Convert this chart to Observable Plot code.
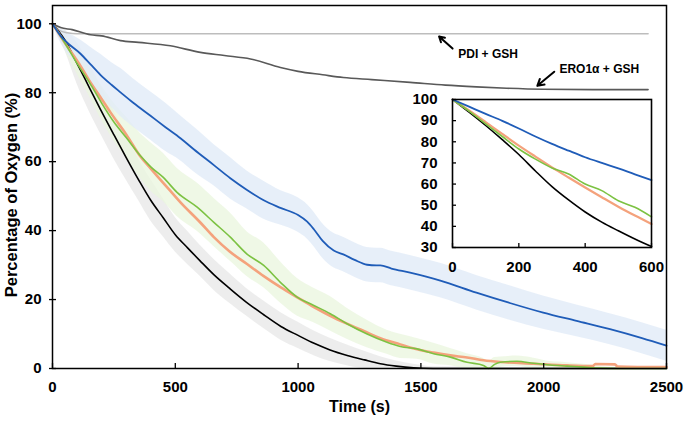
<!DOCTYPE html>
<html><head><meta charset="utf-8">
<script src="https://cdn.jsdelivr.net/npm/d3@7"></script>
<script src="https://cdn.jsdelivr.net/npm/@observablehq/plot@0.6"></script>
<style>
body{margin:0;background:#fff;}
#wrap{position:relative;width:686px;height:425px;}
#inset{position:absolute;left:412px;top:91px;}
</style></head><body><div id="wrap"></div>
<script>
// ---- main chart data ----
const blackT = [0,50,100,150,200,250,300,350,400,450,500,550,600,660,720,790,860,930,1000,1065,1130,1200,1270,1335,1400,1470,1550,2500];
const blackV = [100,95.3,88.5,81.5,74.5,67.8,61.2,54.8,48.8,43.8,38.8,35,31.3,27,23.3,19.2,15.6,12.2,9.6,7.3,5.4,3.8,2.5,1.4,0.7,0.2,0,0];
const blackE = [0,3,6,7,7,7,6.5,6,6,5.5,5,4.8,4.5,4.5,4.3,4,4,4,3.8,3.6,3.4,3,2.5,2,1.5,1,0.5,0];

const orangeT = [0,50,114,150,200,236,300,358,400,480,521,600,657,720,792,860,928,1000,1064,1130,1199,1270,1335,1416,1471,1552,1620,1688,1755,1823,1959,2095,2200,2210,2290,2300,2500];
const orangeV = [100,94.5,87.8,83.5,78.2,74.3,67.9,61.5,58,51.5,48.2,42.5,38.1,34,30.3,26.8,23.6,20.5,17.8,15.3,13,10.8,8.8,7,5.8,4.6,3.8,3.2,2.4,1.9,1.4,0.9,0.7,1.3,1.2,0.6,0.4];

const greenT = [0,50,100,150,200,250,300,358,400,450,507,589,657,724,792,860,928,996,1064,1131,1199,1281,1362,1416,1484,1552,1620,1688,1755,1776,1800,1823,1891,1959,2027,2095,2163,2230,2300,2500];
const greenV = [100,94.5,88.5,83,77,71.5,67,61.7,58.5,55.5,51.1,46.8,42.4,38.1,33.2,29.9,25,20.7,18.3,15.9,13,10,7.6,6.4,5.7,4.3,3.3,1.8,0.9,0,1.2,1.8,2.1,1.5,1,0.7,0.4,0.1,0,0];
const greenE = [0,2,3,4,5,5.5,6,6.5,7,7,7,7,7,7,6.5,6.5,6,5.5,5,5,4.5,4,3.5,3.5,3,3,2.5,2.5,2,2,2,1.5,1.5,1.5,1,1,0.8,0.5,0.3,0];

const blueT = [0,33,60,114,155,195,240,277,330,399,460,521,575,657,724,792,860,928,1000,1037,1064,1100,1145,1184,1230,1281,1319,1335,1380,1456,1579,1726,1862,1998,2134,2270,2400,2500];
const blueV = [100,96.5,94.5,91.3,88.2,85.2,82.3,80.1,77,73.3,70,66.8,63.6,59,55.2,51.8,48.8,46.6,44.5,42.6,40.4,37,34.2,33.1,31.5,30.1,29.9,29.9,29,27.8,25.5,22,19,16.2,13.8,11.4,8.8,6.6];
const blueE = [0,2,3,4,5,6,6.5,7,7,7,7,6.5,6.5,6,6,5.5,5.5,5,5,5,5,5,5,5,5,5,5,5,5,5,5,5,5,4.8,4.6,4.5,4.5,4.5];

const eroT = [0,33,80,155,200,277,350,480,602,700,806,928,1000,1100,1184,1300,1456,1600,1726,1850,1998,2200,2425];
const eroV = [100,98.9,98.3,96.8,96.5,95.1,94.6,93.6,91.7,90.8,89.8,87.3,86.2,85.2,84.4,83.8,83,82.2,81.7,81.3,81,80.9,80.9];

const pdiT = [0,30,60,100,600,1200,1800,2425];
const pdiV = [100,98,97.4,97.1,97.1,97.1,97.1,97.1];

const xTicks = [0,500,1000,1500,2000,2500];
const yTicks = [0,20,40,60,80,100];

const labels = ["PDI + GSH", "ERO1\u03b1 + GSH"];
const labelT = [1652, 2064];
const labelV = [91.3, 86.7];
const arrowT1 = [1629, 2043], arrowV1 = [92.8, 86.1];
const arrowT2 = [1574, 1974], arrowV2 = [96.3, 82.0];

// ---- inset data ----
const insetT = [0,50,100,150,200,250,300,350,400,450,500,550,600];
const insetBlue = [100,96.6,93.2,89.9,86.3,82.5,79,75.8,72.7,70,67.4,64.6,61.9];
const insetOrange = [100,94.8,89.3,83.7,78.2,73,67.9,63.1,58.4,53.8,49.3,45.1,41.1];
const insetGreen = [100,94.5,88.5,82.5,76.6,71.8,67.6,64.8,60,56.9,52.1,49,44.5];
const insetBlack = [100,94,87.7,81,74,66.2,58.8,52.5,46.8,42,37.9,34,30.5];
const insetXTicks = [0,200,400,600];
const insetYTicks = [30,40,50,60,70,80,90,100];

// ---- build tables ----
const tab = (T, V, E) => T.map((t, i) => ({t, v: V[i], lo: E ? Math.max(0, V[i] - E[i]) : null, hi: E ? V[i] + E[i] : null}));
const black = tab(blackT, blackV, blackE);
const orange = tab(orangeT, orangeV);
const green = tab(greenT, greenV, greenE);
const blue = tab(blueT, blueV, blueE);
const ero = tab(eroT, eroV);
const pdi = tab(pdiT, pdiV);
const notes = labels.map((s, i) => ({s, t: labelT[i], v: labelV[i], x1: arrowT1[i], y1: arrowV1[i], x2: arrowT2[i], y2: arrowV2[i]}));

const C = {blue: "#1f5cb8", green: "#7cc242", orange: "#f4a27c", black: "#000", ero: "#595959", pdi: "#bdbdbd"};
const font = "'Liberation Sans', Arial, Helvetica, sans-serif";
const cv = "monotone-x";
const fmt = d => String(d);

const main = Plot.plot({
  width: 686, height: 425,
  marginLeft: 52, marginRight: 20, marginTop: 5, marginBottom: 57,
  style: {fontFamily: font, fontWeight: "bold", background: "white", color: "black", overflow: "visible"},
  x: {domain: [0, 2500], label: null},
  y: {domain: [0, 105.3], label: null},
  marks: [
    Plot.areaY(black, {x: "t", y1: "lo", y2: "hi", fill: "#e9e9e9", fillOpacity: 0.8, curve: cv}),
    Plot.areaY(green, {x: "t", y1: "lo", y2: "hi", fill: "#e9f5de", fillOpacity: 0.75, curve: cv}),
    Plot.areaY(blue, {x: "t", y1: "lo", y2: "hi", fill: "#e1ebf8", fillOpacity: 0.8, curve: cv}),
    Plot.line(pdi, {x: "t", y: "v", stroke: C.pdi, strokeWidth: 1.6, curve: cv}),
    Plot.line(ero, {x: "t", y: "v", stroke: C.ero, strokeWidth: 1.6, curve: cv}),
    Plot.line(black, {x: "t", y: "v", stroke: C.black, strokeWidth: 1.6, curve: cv}),
    Plot.line(orange, {x: "t", y: "v", stroke: C.orange, strokeWidth: 2.6, curve: cv}),
    Plot.line(green, {x: "t", y: "v", stroke: C.green, strokeWidth: 1.6, curve: cv}),
    Plot.line(blue, {x: "t", y: "v", stroke: C.blue, strokeWidth: 1.8, curve: cv}),
    Plot.arrow(notes, {x1: "x1", y1: "y1", x2: "x2", y2: "y2", stroke: "black", strokeWidth: 2, headLength: 8}),
    Plot.text(notes, {x: "t", y: "v", text: "s", textAnchor: "start", fontSize: 12, fontWeight: "bold", fill: "black"}),
    Plot.frame({stroke: "black", strokeWidth: 1.5}),
    Plot.axisY({ticks: yTicks, tickSize: 7, dx: 4, tickFormat: () => "", strokeWidth: 1.3, label: null}),
    Plot.axisY({ticks: yTicks, tickSize: 0, tickPadding: 11, tickFormat: fmt, fontSize: 15, fontWeight: "bold", label: null}),
    Plot.axisX({ticks: xTicks, tickSize: 5, dy: -5, tickFormat: () => "", strokeWidth: 1.3, label: null}),
    Plot.axisX({ticks: xTicks, tickSize: 0, tickPadding: 13, tickFormat: fmt, fontSize: 15, fontWeight: "bold", label: null}),
    Plot.text(["Time (s)"], {frameAnchor: "bottom", textAnchor: "middle", dy: 43, text: d => d, fontSize: 16, fontWeight: "bold", fill: "black"}),
    Plot.text(["Percentage of Oxygen (%)"], {frameAnchor: "left", textAnchor: "middle", dx: -41, dy: 8, rotate: -90, text: d => d, fontSize: 16.5, fontWeight: "bold", fill: "black"})
  ]
});

const ib = tab(insetT, insetBlue), io = tab(insetT, insetOrange), ig = tab(insetT, insetGreen), ik = tab(insetT, insetBlack);
const inset = Plot.plot({
  width: 254, height: 184,
  marginLeft: 40, marginRight: 15, marginTop: 8, marginBottom: 28,
  style: {fontFamily: font, fontWeight: "bold", background: "transparent", color: "black", overflow: "visible"},
  x: {domain: [0, 600], label: null},
  y: {domain: [30, 100], label: null},
  marks: [
    Plot.line(ik, {x: "t", y: "v", stroke: C.black, strokeWidth: 1.6, curve: cv}),
    Plot.line(io, {x: "t", y: "v", stroke: C.orange, strokeWidth: 2.2, curve: cv}),
    Plot.line(ig, {x: "t", y: "v", stroke: C.green, strokeWidth: 1.6, curve: cv}),
    Plot.line(ib, {x: "t", y: "v", stroke: C.blue, strokeWidth: 1.8, curve: cv}),
    Plot.frame({stroke: "black", strokeWidth: 1.6}),
    Plot.axisY({ticks: insetYTicks, tickSize: 4, dx: 4, tickFormat: () => "", strokeWidth: 1.3, label: null}),
    Plot.axisY({ticks: insetYTicks, tickSize: 0, tickPadding: 15, tickFormat: fmt, fontSize: 15, fontWeight: "bold", label: null}),
    Plot.axisX({ticks: insetXTicks, tickSize: 4, dy: -4, tickFormat: () => "", strokeWidth: 1.3, label: null}),
    Plot.axisX({ticks: insetXTicks, tickSize: 0, tickPadding: 14, tickFormat: fmt, fontSize: 15, fontWeight: "bold", label: null})
  ]
});
inset.setAttribute("id", "inset");
const wrap = document.getElementById("wrap");
wrap.appendChild(main);
wrap.appendChild(inset);
</script></body></html>
